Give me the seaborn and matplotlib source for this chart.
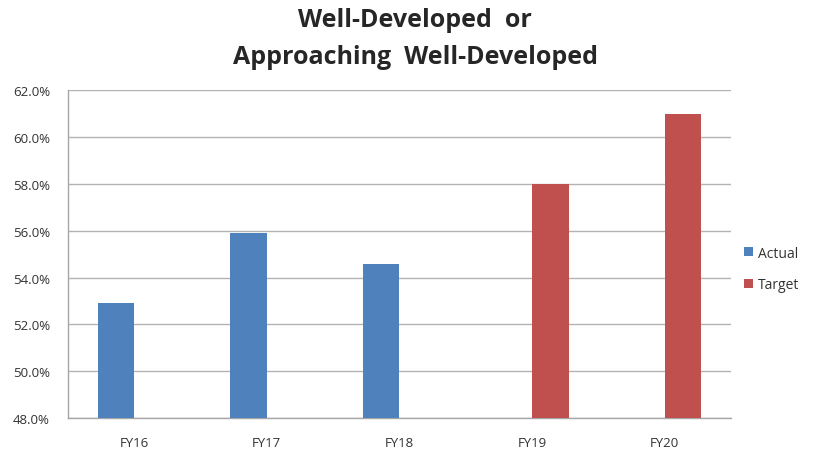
import pandas as pd
import matplotlib.pyplot as plt
import seaborn as sns
from matplotlib.ticker import PercentFormatter

# Chart values
years = ['FY16', 'FY17', 'FY18', 'FY19', 'FY20']
series = ['Actual', 'Actual', 'Actual', 'Target', 'Target']
values = [52.9, 55.9, 54.6, 58.0, 61.0]
y_ticks = [48, 50, 52, 54, 56, 58, 60, 62]

df = pd.DataFrame({'year': years, 'series': series, 'value': values})

sns.set_style('white')
plt.rcParams['font.family'] = ['Open Sans', 'DejaVu Sans']

fig = plt.figure(figsize=(8.14, 4.52), dpi=100)
ax = fig.add_axes([0.0835, 0.073, 0.8145, 0.725])

sns.barplot(data=df, x='year', y='value', hue='series', hue_order=['Actual', 'Target'],
            order=years, palette={'Actual': '#4F81BD', 'Target': '#C0504D'},
            width=0.55, gap=0, dodge=True, saturation=1, linewidth=0,
            ax=ax, zorder=3)

ax.set_ylim(48, 62)
ax.set_yticks(y_ticks)
ax.yaxis.set_major_formatter(PercentFormatter(decimals=1))
ax.grid(axis='y', color='#b3b3b3', linewidth=1, zorder=0)
ax.set_axisbelow(True)
for side in ['top', 'right']:
    ax.spines[side].set_visible(False)
for side in ['left', 'bottom']:
    ax.spines[side].set_color('#a6a6a6')
    ax.spines[side].set_linewidth(1)
ax.tick_params(axis='y', length=0, labelsize=9.5, colors='#333333', pad=13)
ax.tick_params(axis='x', length=0, labelsize=9.5, colors='#333333', pad=13)
ax.set_xlabel('')
ax.set_ylabel('')

ax.legend(frameon=False, loc='center left', bbox_to_anchor=(1.02, 0.455),
          handlelength=0.6, handleheight=0.6, handletextpad=0.4,
          labelspacing=1.2, fontsize=10, labelcolor='#333333',
          borderaxespad=0, borderpad=0)

fig.suptitle('Well-Developed  or\nApproaching  Well-Developed', x=0.51, y=0.982,
             fontsize=18, fontweight='bold', linespacing=1.6)

fig.savefig('out.png', dpi=100)
